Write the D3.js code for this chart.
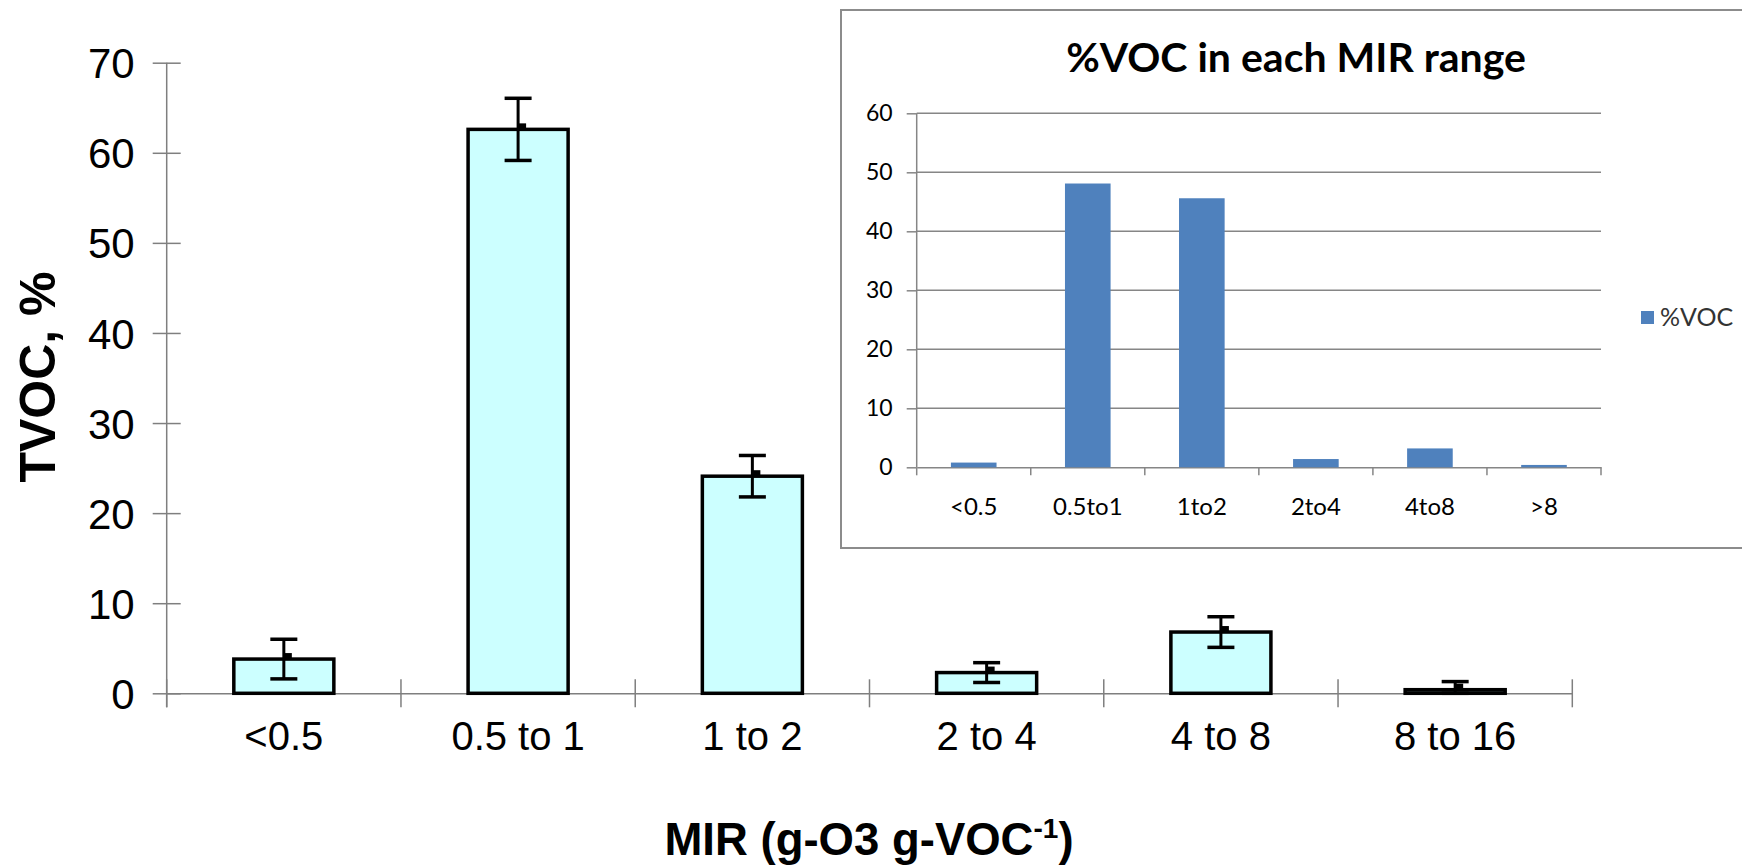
<!DOCTYPE html>
<html>
  <head>
    <meta charset="utf-8">
    <title>TVOC by MIR range</title>
    <script src="https://cdn.jsdelivr.net/npm/d3@7"></script>
    <style>
      body { margin: 0; background: #fff; }
      #chart { display: block; }
      .main text { font-family: "Liberation Sans", Arial, sans-serif; fill: #000; }
      .inset text { font-family: Lato, "Open Sans", sans-serif; fill: #000; }
    </style>
  </head>

  <body>
    <svg id="chart" width="1742" height="868"></svg>

    <script>
      // main chart data
      categories = ["<0.5", "0.5 to 1", "1 to 2", "2 to 4", "4 to 8", "8 to 16"];
      tvoc = [3.8, 62.6, 24.1, 2.3, 6.8, 0.4];
      tvocErr = [2.2, 3.45, 2.3, 1.1, 1.7, 0.9];
      yTicks = [0, 10, 20, 30, 40, 50, 60, 70];

      // inset data
      insetCategories = ["<0.5", "0.5to1", "1to2", "2to4", "4to8", ">8"];
      insetVoc = [0.8, 48.1, 45.6, 1.4, 3.2, 0.4];
      insetTicks = [0, 10, 20, 30, 40, 50, 60];

      chart = d3.select("#chart");

      // ---- main chart ----
      main = chart.append("g").attr("class", "main");

      x = d3.scaleBand()
        .domain(categories)
        .range([166.7, 1572.3])
        .padding(0);

      y = d3.scaleLinear()
        .domain([0, 70])
        .range([693.3, 62.7]);

      barWidth = x.bandwidth() * 0.427;
      axisColor = "#7f7f7f";

      // y axis with ticks crossing the line
      yAxis = main.append("g")
        .attr("transform", "translate(" + x.range()[0] + ",0)")
        .call(d3.axisLeft(y).tickValues(yTicks).tickSize(14).tickPadding(0));
      yAxis.select(".domain")
        .attr("d", "M0," + y(70) + "V" + (y(0) + 14))
        .attr("stroke", axisColor)
        .attr("stroke-width", 1.5);
      yAxis.selectAll(".tick line")
        .attr("x1", 14)
        .attr("x2", -14)
        .attr("stroke", axisColor)
        .attr("stroke-width", 1.5);
      yAxis.selectAll(".tick text")
        .attr("x", -32)
        .attr("dy", "0.36em")
        .style("font-size", "42px");

      // x axis: labels at band centres, ticks at band edges
      xAxis = main.append("g")
        .attr("transform", "translate(0," + y(0) + ")")
        .call(d3.axisBottom(x).tickSize(0).tickPadding(0));
      xAxis.select(".domain")
        .attr("stroke", axisColor)
        .attr("stroke-width", 1.5);
      xAxis.selectAll(".tick text")
        .attr("y", 57)
        .attr("dy", 0)
        .style("font-size", "40px");

      edges = categories.map(c => x(c)).concat([x.range()[1]]);
      main.append("g")
        .selectAll("line")
        .data(edges)
        .enter().append("line")
          .attr("x1", d => d)
          .attr("x2", d => d)
          .attr("y1", y(0) - 14)
          .attr("y2", y(0) + 14)
          .attr("stroke", axisColor)
          .attr("stroke-width", 1.5);

      // bars
      main.append("g")
        .selectAll("rect")
        .data(tvoc)
        .enter().append("rect")
          .attr("x", (d, i) => x(categories[i]) + x.bandwidth() / 2 - barWidth / 2)
          .attr("y", d => y(d))
          .attr("width", barWidth)
          .attr("height", d => y(0) - y(d))
          .attr("fill", "#ccffff")
          .attr("stroke", "#000")
          .attr("stroke-width", 3.5);

      // error bars
      errors = main.append("g")
        .selectAll("g")
        .data(tvoc)
        .enter().append("g")
          .attr("transform", (d, i) => "translate(" + (x(categories[i]) + x.bandwidth() / 2) + ",0)");
      errors.append("line")
        .attr("y1", (d, i) => y(d + tvocErr[i]))
        .attr("y2", (d, i) => y(Math.max(0, d - tvocErr[i])))
        .attr("stroke", "#000")
        .attr("stroke-width", 3);
      errors.append("line")
        .attr("x1", -13.5)
        .attr("x2", 13.5)
        .attr("y1", (d, i) => y(d + tvocErr[i]))
        .attr("y2", (d, i) => y(d + tvocErr[i]))
        .attr("stroke", "#000")
        .attr("stroke-width", 3.5);
      errors.append("line")
        .attr("x1", -13.5)
        .attr("x2", 13.5)
        .attr("y1", (d, i) => y(Math.max(0, d - tvocErr[i])))
        .attr("y2", (d, i) => y(Math.max(0, d - tvocErr[i])))
        .attr("stroke", "#000")
        .attr("stroke-width", 3.5);
      // mean marker
      errors.append("rect")
        .attr("x", 0)
        .attr("y", d => y(d) - 6)
        .attr("width", 8)
        .attr("height", 6)
        .attr("fill", "#000");

      // titles
      main.append("text")
        .attr("transform", "translate(55,377) rotate(-90)")
        .attr("text-anchor", "middle")
        .style("font-size", "50px")
        .style("font-weight", "bold")
        .text("TVOC, %");

      xTitle = main.append("text")
        .attr("x", 869)
        .attr("y", 855)
        .attr("text-anchor", "middle")
        .style("font-size", "45.5px")
        .style("font-weight", "bold");
      xTitle.append("tspan").text("MIR (g-O3 g-VOC");
      xTitle.append("tspan")
        .attr("dy", -17)
        .style("font-size", "28px")
        .text("-1");
      xTitle.append("tspan")
        .attr("dy", 17)
        .text(")");

      // ---- inset chart ----
      inset = chart.append("g").attr("class", "inset");

      inset.append("rect")
        .attr("x", 841)
        .attr("y", 10)
        .attr("width", 920)
        .attr("height", 538)
        .attr("fill", "#fff")
        .attr("stroke", "#8c8c8c")
        .attr("stroke-width", 2);

      ix = d3.scaleBand()
        .domain(insetCategories)
        .range([916.7, 1601])
        .padding(0);

      iy = d3.scaleLinear()
        .domain([0, 60])
        .range([467.3, 113.3]);

      gridColor = "#868686";

      inset.append("g")
        .selectAll("line")
        .data(insetTicks.slice(1))
        .enter().append("line")
          .attr("x1", ix.range()[0])
          .attr("x2", ix.range()[1])
          .attr("y1", d => iy(d))
          .attr("y2", d => iy(d))
          .attr("stroke", gridColor)
          .attr("stroke-width", 1.5);

      iyAxis = inset.append("g")
        .attr("transform", "translate(" + ix.range()[0] + ",0)")
        .call(d3.axisLeft(iy).tickValues(insetTicks).tickSize(10).tickPadding(14));
      iyAxis.select(".domain")
        .attr("d", "M0," + iy(60) + "V" + iy(0))
        .attr("stroke", gridColor)
        .attr("stroke-width", 1.5);
      iyAxis.selectAll(".tick line")
        .attr("stroke", gridColor)
        .attr("stroke-width", 1.5);
      iyAxis.selectAll(".tick text")
        .style("font-size", "23px");

      ixAxis = inset.append("g")
        .attr("transform", "translate(0," + iy(0) + ")")
        .call(d3.axisBottom(ix).tickSize(0).tickPadding(0));
      ixAxis.select(".domain")
        .attr("stroke", gridColor)
        .attr("stroke-width", 1.5);
      ixAxis.selectAll(".tick text")
        .attr("y", 48)
        .attr("dy", 0)
        .style("font-size", "24px");

      iEdges = insetCategories.map(c => ix(c)).concat([ix.range()[1]]);
      inset.append("g")
        .selectAll("line")
        .data(iEdges)
        .enter().append("line")
          .attr("x1", d => d)
          .attr("x2", d => d)
          .attr("y1", iy(0))
          .attr("y2", iy(0) + 8)
          .attr("stroke", gridColor)
          .attr("stroke-width", 1.5);

      iBarWidth = ix.bandwidth() * 0.4;
      inset.append("g")
        .selectAll("rect")
        .data(insetVoc)
        .enter().append("rect")
          .attr("x", (d, i) => ix(insetCategories[i]) + ix.bandwidth() / 2 - iBarWidth / 2)
          .attr("y", d => iy(d))
          .attr("width", iBarWidth)
          .attr("height", d => iy(0) - iy(d))
          .attr("fill", "#4f81bd");

      inset.append("text")
        .attr("x", 1296)
        .attr("y", 71.7)
        .attr("text-anchor", "middle")
        .style("font-size", "41px")
        .style("font-weight", "bold")
        .text("%VOC in each MIR range");

      // legend
      inset.append("rect")
        .attr("x", 1641)
        .attr("y", 311)
        .attr("width", 13)
        .attr("height", 13)
        .attr("fill", "#4f81bd");
      inset.append("text")
        .attr("x", 1660)
        .attr("y", 326)
        .style("font-size", "25px")
        .style("fill", "#333")
        .text("%VOC");
    </script>
  </body>
</html>
